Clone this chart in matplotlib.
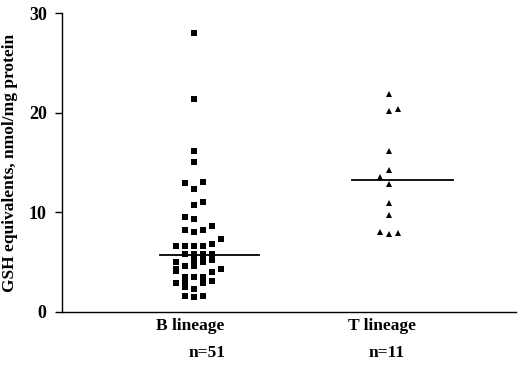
import matplotlib
matplotlib.use("Agg")
import matplotlib.pyplot as plt
import numpy as np

# ---- data ----
categories = ["B lineage", "T lineage"]
counts = ["n=51", "n=11"]

b_values = [28.0, 21.4, 16.2, 15.1,
            12.9, 13.0, 12.3,
            10.7, 11.0,
            9.5, 9.3,
            8.2, 8.0, 8.2, 8.65,
            7.35, 6.85,
            6.6, 6.6, 6.6, 6.6,
            5.8, 5.8, 5.8, 5.8, 5.5, 5.5, 5.65, 5.65,
            5.05, 5.05, 5.05, 5.2,
            4.3, 4.6, 4.6, 4.3, 4.1,
            4.05,
            3.55, 3.55, 3.55,
            3.15,
            2.95, 2.95, 3.0,
            2.5, 2.35,
            1.65, 1.55, 1.65]
b_slots = [0, 0, 0, 0,
           -1, 1, 0,
           0, 1,
           -1, 0,
           -1, 0, 1, 2,
           3, 2,
           -2, -1, 0, 1,
           -1, 0, 1, 2, 0, 1, 0, 1,
           -2, 0, 1, 2,
           -2, -1, 0, 3, -2,
           2,
           -1, 0, 1,
           2,
           -2, 1, -1,
           -1, 0,
           -1, 0, 1]

t_values = [21.9, 20.2, 20.4, 16.2, 14.2, 13.5, 12.8, 10.9, 9.7, 8.0, 7.85, 7.9]
t_slots = [0, 0, 1, 0, 0, -1, 0, 0, 0, -1, 0, 1]

b_median = 5.7
t_median = 13.2

yticks = [0, 10, 20, 30]
ylabel = "GSH equivalents, nmol/mg protein"

# ---- plot ----
plt.rcParams["font.family"] = ["Liberation Serif", "DejaVu Serif"]
plt.rcParams["font.weight"] = "bold"

fig = plt.figure(figsize=(5.2, 3.65), dpi=100)
ax = fig.add_axes([62 / 520, 53 / 365, 454 / 520, 299 / 365])

slot_w = 0.0462
xb = 0 + np.array(b_slots) * slot_w
xt = 1 + np.array(t_slots) * slot_w
ax.plot(xb, b_values, "s", color="black", ms=4.2, mew=0, ls="none")
ax.plot(xt, t_values, "^", color="black", ms=5.0, mew=0, ls="none")

ax.plot([-0.175, 0.334], [b_median, b_median], color="black", lw=1.3)
ax.plot([1 - 0.189, 1 + 0.33], [t_median, t_median], color="black", lw=1.3)

ax.set_xlim(-0.678, 1.654)
ax.set_ylim(0, 30)
ax.set_yticks(yticks)
ax.set_yticklabels([str(v) for v in yticks], fontsize=13, fontweight="bold")
ax.set_xticks([])
ax.spines["top"].set_visible(False)
ax.spines["right"].set_visible(False)
ax.spines["left"].set_linewidth(1.0)
ax.spines["bottom"].set_linewidth(1.0)
ax.tick_params(axis="y", length=5, width=1.0, pad=6)

ax.set_ylabel(ylabel, fontsize=12.5, fontweight="bold", labelpad=8)

label_dx = [-0.02, -0.035]
count_dx = [0.067, -0.009]
for i, (cat, n) in enumerate(zip(categories, counts)):
    ax.text(i + label_dx[i], -0.02, cat, transform=ax.get_xaxis_transform(),
            ha="center", va="top", fontsize=12.5, fontweight="bold")
    ax.text(i + count_dx[i], -0.11, n, transform=ax.get_xaxis_transform(),
            ha="center", va="top", fontsize=12.5, fontweight="bold")

fig.savefig("out.png", dpi=100)
